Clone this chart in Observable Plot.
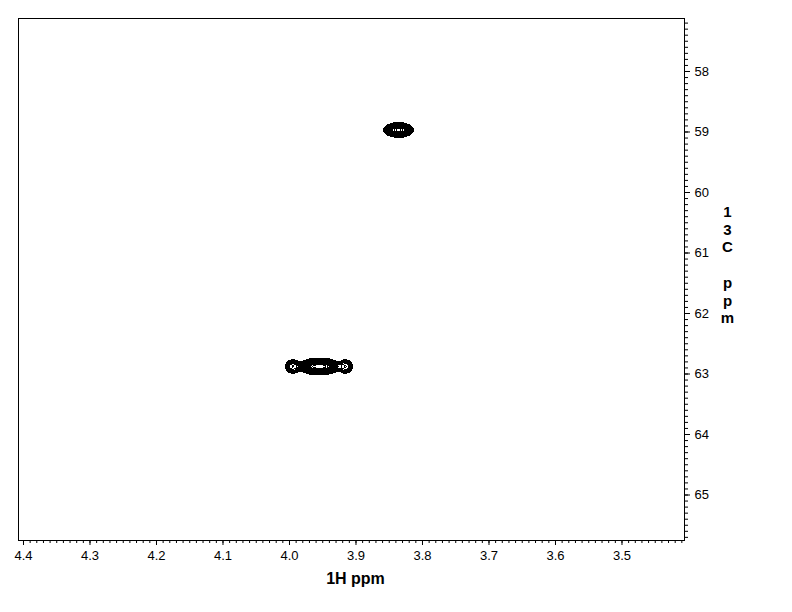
<!DOCTYPE html>
<html>
<head>
<meta charset="utf-8">
<script src="https://cdn.jsdelivr.net/npm/d3@7"></script>
<script src="https://cdn.jsdelivr.net/npm/@observablehq/plot@0.6"></script>
<style>
  html, body { margin: 0; padding: 0; background: #fff; overflow: hidden; }
  #chart svg { display: block; }
</style>
</head>
<body>
<div id="chart"></div>
<script>
// Cross peaks (1H ppm, 13C ppm), relative heights and line widths (ppm)
const peakH = [3.836, 3.963, 3.947, 3.995, 3.916];
const peakC = [58.967, 62.876, 62.876, 62.876, 62.876];
const peakHeight = [1.0, 1.5, 1.5, 0.15, 0.15];
const peakWidthH = [0.0092, 0.0082, 0.0082, 0.0076, 0.0074];
const peakWidthC = [0.05, 0.05, 0.05, 0.075, 0.075];

// Contour levels
const contourLevels = [0.05, 0.06, 0.072, 0.086, 0.104, 0.124, 0.149, 0.179, 0.215, 0.258, 0.31, 0.37, 0.445, 0.535, 0.64, 0.77, 0.92, 1.1, 1.33, 1.6, 1.9];

// Axis ticks
const xTicks = [4.4, 4.3, 4.2, 4.1, 4.0, 3.9, 3.8, 3.7, 3.6, 3.5];
const yTicks = [58, 59, 60, 61, 62, 63, 64, 65];
const xDomain = [4.4075, 3.406];
const yDomain = [65.752, 57.124];
const xLabel = "1H ppm";
const yLabel = "1\n3\nC\n\np\np\nm";

const xMinor = d3.range(341, 441).map(v => v / 100);
const yMinor = d3.range(572, 658).map(v => v / 10);

function spectrum(h, c) {
  let s = 0;
  for (let i = 0; i < peakH.length; i++) {
    const dx = (h - peakH[i]) / peakWidthH[i];
    const dy = (c - peakC[i]) / peakWidthC[i];
    s += peakHeight[i] * Math.exp(-0.5 * (dx * dx + dy * dy));
  }
  return s;
}

const chart = Plot.plot({
  width: 792,
  height: 612,
  marginTop: 18,
  marginRight: 108,
  marginBottom: 72,
  marginLeft: 18,
  style: { background: "#fff", color: "#000", fontFamily: "'Liberation Sans', Arial, sans-serif", fontSize: "13px" },
  x: { domain: xDomain },
  y: { domain: yDomain },
  marks: [
    Plot.contour({
      value: spectrum,
      x1: xDomain[1], x2: xDomain[0],
      y1: yDomain[1], y2: yDomain[0],
      thresholds: contourLevels,
      stroke: "#000",
      strokeWidth: 1,
      fill: "none",
      shapeRendering: "crispEdges",
      pixelSize: 0.5
    }),
    Plot.frame({ stroke: "#000", strokeWidth: 1, shapeRendering: "crispEdges" }),
    Plot.axisX(xMinor, { anchor: "bottom", tickSize: 3, tickFormat: () => "", label: null, stroke: "#000" }),
    Plot.axisX(xTicks, { anchor: "bottom", tickSize: 5, tickPadding: 5, tickFormat: d3.format(".1f"), label: null, stroke: "#000", fill: "#000" }),
    Plot.axisY(yMinor, { anchor: "right", tickSize: 3, tickFormat: () => "", label: null, stroke: "#000" }),
    Plot.axisY(yTicks, { anchor: "right", tickSize: 5, tickPadding: 5, tickFormat: d3.format("d"), label: null, stroke: "#000", fill: "#000" }),
    Plot.text([xLabel], { frameAnchor: "bottom", dx: 4, dy: 43, lineAnchor: "bottom", fontSize: 16, fontWeight: "bold", fill: "#000" }),
    Plot.text([yLabel], { frameAnchor: "right", dx: 43, dy: -15, textAnchor: "middle", lineAnchor: "middle", lineHeight: 1.18, fontSize: 15, fontWeight: "bold", fill: "#000" })
  ]
});
document.getElementById("chart").append(chart);
</script>
</body>
</html>
